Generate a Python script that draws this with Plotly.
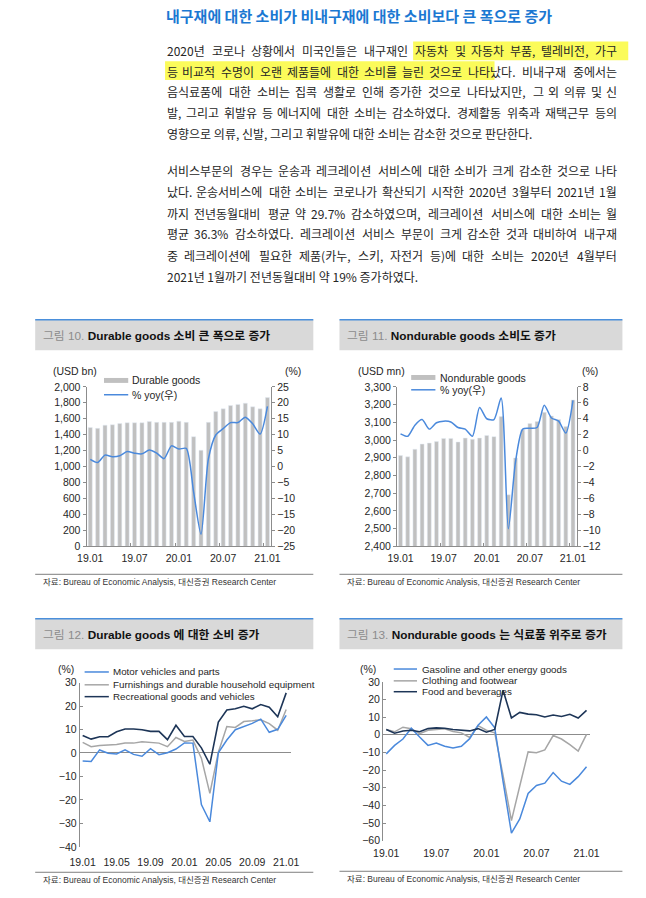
import plotly.graph_objects as go

W, H = 646, 898

# ---------------- data ----------------
months = ['19.01', '19.02', '19.03', '19.04', '19.05', '19.06', '19.07', '19.08', '19.09',
          '19.10', '19.11', '19.12', '20.01', '20.02', '20.03', '20.04', '20.05', '20.06',
          '20.07', '20.08', '20.09', '20.10', '20.11', '20.12', '21.01']

durable_bn = [1490, 1480, 1520, 1525, 1540, 1550, 1550, 1550, 1565, 1555, 1555, 1555, 1570,
              1555, 1375, 1205, 1555, 1690, 1725, 1765, 1780, 1795, 1750, 1725, 1865]
durable_yoy = [2.3, 1.3, 3.6, 3.1, 3.4, 4.7, 4.2, 4.0, 5.2, 4.2, 2.5, 6.5, 5.5, 5.7, -8.0,
               -21.2, 2.4, 9.9, 11.9, 13.8, 13.8, 15.5, 13.4, 10.2, 18.9]

nondurable_mn = [2912, 2905, 2948, 2977, 2983, 2991, 3009, 3009, 2989, 3011, 3004, 3011, 3026,
                 3019, 3132, 2691, 2899, 3058, 3093, 3104, 3156, 3136, 3116, 3076, 3226]
nondurable_yoy = [2.1, 1.8, 3.2, 3.9, 2.7, 3.5, 3.7, 3.6, 2.9, 2.7, 1.8, 5.4, 4.0, 3.9, 6.6,
                  -9.8, -1.4, 2.7, 2.8, 2.9, 5.7, 4.1, 3.7, 2.2, 6.3]

motor = [-3.4, -3.6, 1.3, -0.1, -0.4, 1.3, -0.6, -1.4, 1.8, -0.7, 0.1, 1.7, 4.3, 4.2, -22.0,
         -29.3, 0.1, 5.5, 9.9, 11.3, 12.6, 14.4, 8.8, 10.1, 16.0]
furnish = [4.5, 2.7, 3.2, 3.4, 3.6, 4.2, 4.2, 4.8, 4.5, 4.2, 2.7, 6.6, 4.9, 5.5, -2.2, -17.2,
           0.3, 11.3, 10.9, 13.4, 13.7, 14.1, 12.5, 9.7, 18.5]
recreation = [7.4, 5.9, 6.9, 6.9, 9.0, 10.2, 10.2, 9.9, 9.2, 9.2, 5.7, 11.8, 7.0, 7.0, 2.2,
              -4.8, 13.2, 18.3, 18.8, 19.9, 18.8, 20.6, 19.5, 15.4, 25.6]

gasoline = [-10.8, -6.0, -2.4, 3.7, -1.3, -6.0, -4.7, -6.5, -7.5, -6.5, -2.2, 5.4, 10.1, 3.9,
            -26.5, -55.7, -47.7, -33.2, -28.7, -27.4, -21.4, -26.3, -28.1, -23.7, -18.1]
clothing = [3.0, 1.7, 4.3, 3.4, 0.6, 2.6, 3.0, 3.4, 1.9, 1.1, -1.5, 5.2, 2.6, 1.1, -23.0,
            -48.6, -29.0, -9.7, -10.2, -8.6, -0.4, -2.4, -5.6, -9.3, 0.2]
food = [3.0, 0.9, 2.2, 2.6, 1.7, 3.5, 3.9, 3.7, 3.0, 2.8, 2.2, 3.5, 1.5, 3.0, 25.3, 9.5, 12.7,
        11.7, 11.4, 10.1, 11.2, 10.4, 11.6, 9.5, 13.8]

ticks_6m = ['19.01', '19.07', '20.01', '20.07', '21.01']
ticks_4m = ['19.01', '19.05', '19.09', '20.01', '20.05', '20.09', '21.01']

header = '내구재에 대한 소비가 비내구재에 대한 소비보다 큰 폭으로 증가'
para1 = ['2020년 코로나 상황에서 미국인들은 내구재인 자동차 및 자동차 부품, 텔레비전, 가구',
         '등 비교적 수명이 오랜 제품들에 대한 소비를 늘린 것으로 나타났다. 비내구재 중에서는',
         '음식료품에 대한 소비는 집콕 생활로 인해 증가한 것으로 나타났지만, 그 외 의류 및 신',
         '발, 그리고 휘발유 등 에너지에 대한 소비는 감소하였다. 경제활동 위축과 재택근무 등의',
         '영향으로 의류, 신발, 그리고 휘발유에 대한 소비는 감소한 것으로 판단한다.']
para2 = ['서비스부문의 경우는 운송과 레크레이션 서비스에 대한 소비가 크게 감소한 것으로 나타',
         '났다. 운송서비스에 대한 소비는 코로나가 확산되기 시작한 2020년 3월부터 2021년 1월',
         '까지 전년동월대비 평균 약 29.7% 감소하였으며, 레크레이션 서비스에 대한 소비는 월',
         '평균 36.3% 감소하였다. 레크레이션 서비스 부문이 크게 감소한 것과 대비하여 내구재',
         '중 레크레이션에 필요한 제품(카누, 스키, 자전거 등)에 대한 소비는 2020년 4월부터',
         '2021년 1월까기 전년동월대비 약 19% 증가하였다.']

titles = ['그림 10.', 'Durable goods 소비 큰 폭으로 증가',
          '그림 11.', 'Nondurable goods 소비도 증가',
          '그림 12.', 'Durable goods 에 대한 소비 증가',
          '그림 13.', 'Nondurable goods 는 식료품 위주로 증가']
source = '자료: Bureau of Economic Analysis, 대신증권 Research Center'

# ---------------- styles ----------------
BLUE = '#4a89dc'
NAVY = '#1d3557'
GRAY_LINE = '#a6a6a6'
BAR = '#c0c0c0'
AX = '#8c8c8c'
TXT = '#262626'
LAT = 'Liberation Sans, Arial, Noto Sans CJK KR, sans-serif'
KR = 'Noto Sans CJK KR, sans-serif'
NARROW = 'Liberation Sans Narrow, Arial Narrow, Liberation Sans, Noto Sans CJK KR'
TF = dict(family=LAT, size=10.5, color=TXT)


def px(x):
    return x / W


def py(y):
    return 1 - y / H


fig = go.Figure()

# chart 10
fig.add_trace(go.Bar(x=months, y=durable_bn, marker_color=BAR, width=0.55,
                     xaxis='x', yaxis='y', name='Durable goods'))
fig.add_trace(go.Scatter(x=months, y=durable_yoy, mode='lines', name='% yoy(우)',
                         line=dict(color=BLUE, width=1.5, shape='spline', smoothing=0.7),
                         xaxis='x', yaxis='y2'))
# chart 11
fig.add_trace(go.Bar(x=months, y=nondurable_mn, marker_color=BAR, width=0.55,
                     xaxis='x2', yaxis='y3', name='Nondurable goods'))
fig.add_trace(go.Scatter(x=months, y=nondurable_yoy, mode='lines', name='% yoy(우)',
                         line=dict(color=BLUE, width=1.5, shape='spline', smoothing=0.7),
                         xaxis='x2', yaxis='y4'))
# chart 12
fig.add_trace(go.Scatter(x=months, y=furnish, mode='lines', line=dict(color=GRAY_LINE, width=1.5),
                         xaxis='x3', yaxis='y5', name='Furnishings and durable household equipment'))
fig.add_trace(go.Scatter(x=months, y=motor, mode='lines', line=dict(color=BLUE, width=1.5),
                         xaxis='x3', yaxis='y5', name='Motor vehicles and parts'))
fig.add_trace(go.Scatter(x=months, y=recreation, mode='lines', line=dict(color=NAVY, width=1.6),
                         xaxis='x3', yaxis='y5', name='Recreational goods and vehicles'))
# chart 13
fig.add_trace(go.Scatter(x=months, y=clothing, mode='lines', line=dict(color=GRAY_LINE, width=1.5),
                         xaxis='x4', yaxis='y6', name='Clothing and footwear'))
fig.add_trace(go.Scatter(x=months, y=gasoline, mode='lines', line=dict(color=BLUE, width=1.5),
                         xaxis='x4', yaxis='y6', name='Gasoline and other energy goods'))
fig.add_trace(go.Scatter(x=months, y=food, mode='lines', line=dict(color=NAVY, width=1.6),
                         xaxis='x4', yaxis='y6', name='Food and beverages'))

common_x = dict(type='category', showgrid=False, zeroline=False, tickfont=TF, tickangle=0,
                categoryorder='array', categoryarray=months)
bar_x = dict(common_x, tickson='boundaries', ticks='inside', ticklen=3, tickcolor=AX,
             showline=True, linecolor=AX, linewidth=1, tickvals=ticks_6m, ticklabelstandoff=2)
yax = dict(showgrid=False, zeroline=False, showline=True, linecolor=AX, linewidth=1,
           ticks='outside', ticklen=3, tickcolor=AX, tickfont=TF)

fig.update_layout(
    width=W, height=H, autosize=False,
    margin=dict(l=0, r=0, t=0, b=0),
    paper_bgcolor='white', plot_bgcolor='white', showlegend=False,
    bargap=0.45,
    xaxis=dict(bar_x, domain=[px(79), px(269.5)], anchor='y', range=[-0.5, 24.5]),
    yaxis=dict(yax, domain=[py(547.7), py(386)], anchor='x', range=[0, 2000], dtick=200,
               tickformat=',d'),
    yaxis2=dict(yax, overlaying='y', side='right', anchor='x', range=[-25, 25], dtick=5),
    xaxis2=dict(bar_x, domain=[px(399.3), px(584.7)], anchor='y3', range=[-0.5, 24.5]),
    yaxis3=dict(yax, domain=[py(547.7), py(386)], anchor='x2', range=[2400, 3300], dtick=100,
                tickformat=',d'),
    yaxis4=dict(yax, overlaying='y3', side='right', anchor='x2', range=[-12, 8], dtick=2),
    xaxis3=dict(common_x, domain=[px(72), px(290)], anchor='y5', range=[-0.34, 24.57],
                tickvals=ticks_4m, showline=False, ticks='', ticklabelstandoff=8),
    yaxis5=dict(yax, domain=[py(852.3), py(685.7)], anchor='x3', range=[-40, 30], dtick=10,
                ticks='inside', zeroline=True, zerolinecolor=AX, zerolinewidth=1),
    xaxis4=dict(common_x, domain=[px(385), px(599)], anchor='y6', range=[-0.38, 24.47],
                tickvals=ticks_6m, showline=False, ticks='', ticklabelstandoff=5),
    yaxis6=dict(yax, domain=[py(846), py(685)], anchor='x4', range=[-60, 30], dtick=10,
                ticks='inside', zeroline=True, zerolinecolor=AX, zerolinewidth=1),
)

shapes = []
ann = []


def text(x, y, s, size=10.5, color=TXT, family=LAT, anchor='left'):
    ann.append(dict(x=px(x), y=py(y), xref='paper', yref='paper', text=s, showarrow=False,
                    xanchor=anchor, yanchor='middle', borderpad=0,
                    font=dict(size=size, color=color, family=family)))


def rect(x0, y0, x1, y1, color, layer='below'):
    shapes.append(dict(type='rect', xref='paper', yref='paper', x0=px(x0), x1=px(x1),
                       y0=py(y1), y1=py(y0), fillcolor=color, line=dict(width=0), layer=layer))


def hline(x0, x1, y, color, width=1):
    shapes.append(dict(type='line', xref='paper', yref='paper', x0=px(x0), x1=px(x1),
                       y0=py(y), y1=py(y), line=dict(color=color, width=width)))


# ---- header + paragraphs ----
text(160, 10, '<b>' + header + '</b>', size=15, color='#1b78d2', family=KR)

FS = 12.0


def cw(c):
    if '\uac00' <= c <= '\ud7a3':
        return FS
    if c == ' ':
        return 0.224 * FS
    if c.isdigit():
        return 0.62 * FS
    if c in '.,:':
        return 0.3 * FS
    if c in '()':
        return 0.36 * FS
    if c == '%':
        return 1.0 * FS
    return 0.6 * FS


def para_line(s, y, justify, x0=161, x1=627):
    if not justify:
        text(x0, y, s, size=FS, family=KR)
        return
    words = s.split(' ')
    widths = [sum(cw(c) for c in w) for w in words]
    gap = (x1 - x0 - sum(widths)) / (len(words) - 1)
    x = x0
    for i, (w, wd) in enumerate(zip(words, widths)):
        if i == len(words) - 1:
            text(x1, y, w, size=FS, family=KR, anchor='right')
        else:
            text(x, y, w, size=FS, family=KR)
        x += wd + gap


# highlights
rect(416, 36, 638, 55, '#fbfb5a')
rect(160, 56, 500, 75, '#fbfb5a')

for i, (s, y) in enumerate(zip(para1, [45, 66, 87, 108, 129])):
    para_line(s, y, i < len(para1) - 1)
for i, (s, y) in enumerate(zip(para2, [167, 188, 210, 231, 253, 274])):
    para_line(s, y, i < len(para2) - 1)

# ---- panel frames ----
panels = [(26, 313, 318, 349, 576, 0), (340, 632, 318, 349, 576, 2),
          (26, 313, 621, 652, 878, 4), (340, 632, 621, 652, 877, 6)]
for (x0, x1, t0, t1, sy, ti) in panels:
    rect(x0, t0, x1, t1, '#d9d9d9')
    hline(x0, x1, t0, '#4a8fdb', 1.5)
    text(x0 + 7, (t0 + t1) / 2 + 1,
         "<span style='color:#8c8c8c'>" + titles[ti] + "</span> <b>" + titles[ti + 1] + "</b>",
         size=11.8, color='#111111', family=LAT)
    hline(x0, x1, sy, '#7f7f7f', 1)
    text(x0 + 7, sy + 8, source, size=8.5, color='#333333', family=NARROW)

# ---- axis unit labels ----
text(43, 370, '(USD bn)')
text(292, 370, '(%)', anchor='center')
text(358, 370, '(USD mn)')
text(599, 370, '(%)', anchor='center')
text(58, 672, '(%)', anchor='center')
text(369, 672, '(%)', anchor='center')

# ---- legends ----
rect(97, 377, 122, 382, BAR)
text(125, 379, 'Durable goods', size=10.5)
hline(97, 122, 394, BLUE, 1.5)
text(125, 394, '% yoy(우)', size=10.5)

rect(414, 374, 439, 379, BAR)
text(443, 377, 'Nondurable goods', size=10.5)
hline(414, 439, 389, BLUE, 1.5)
text(443, 389, '% yoy(우)', size=10.5)

for (label, color, y) in [('Motor vehicles and parts', BLUE, 675),
                          ('Furnishings and durable household equipment', GRAY_LINE, 688),
                          ('Recreational goods and vehicles', NAVY, 700)]:
    hline(77, 102, y, color, 1.5)
    text(105, y, label, size=9.8)

for (label, color, y) in [('Gasoline and other energy goods', BLUE, 672),
                          ('Clothing and footwear', GRAY_LINE, 684),
                          ('Food and beverages', NAVY, 695)]:
    hline(396, 420, y, color, 1.5)
    text(424, y, label, size=9.8)

fig.update_layout(shapes=shapes, annotations=ann)
fig.write_html('out.html', config={'displayModeBar': False},
               post_script="document.body.style.margin='0';document.body.style.overflow='hidden';")
